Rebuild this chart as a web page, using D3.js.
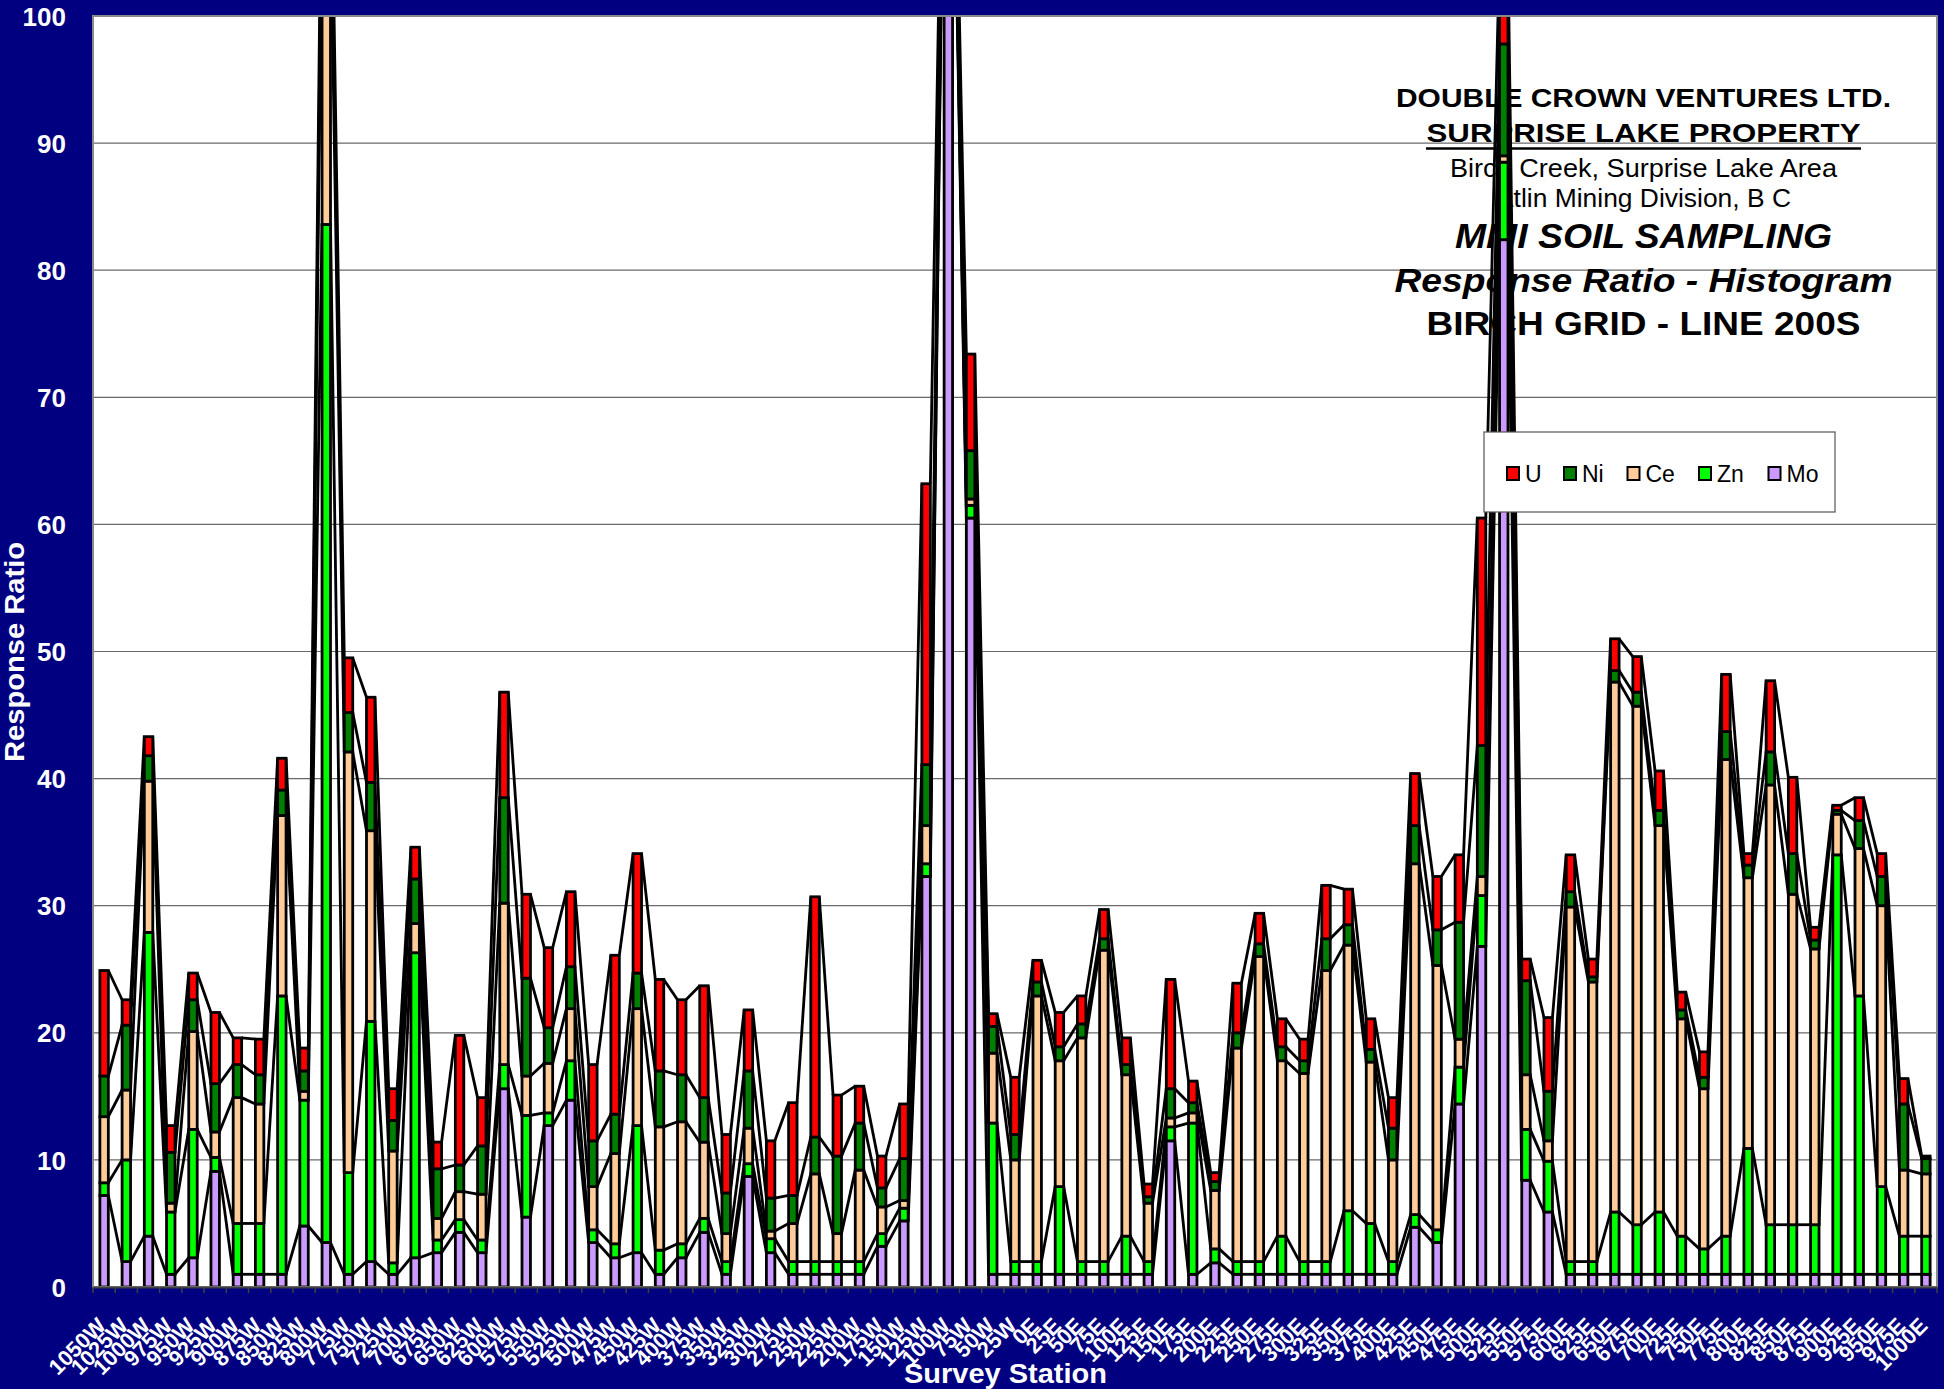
<!DOCTYPE html>
<html>
<head>
<meta charset="utf-8">
<script src="https://cdn.jsdelivr.net/npm/d3@7"></script>
<style>
html,body{margin:0;padding:0;background:#000080;}
svg{display:block;}
text{font-family:Arial,"Liberation Sans",sans-serif;}
</style>
</head>
<body>
<svg id="chart" width="1944" height="1389"></svg>
<script>
const stations = ["1050W","1025W","1000W","975W","950W","925W","900W","875W","850W","825W","800W","775W","750W","725W","700W","675W","650W","625W","600W","575W","550W","525W","500W","475W","450W","425W","400W","375W","350W","325W","300W","275W","250W","225W","200W","175W","150W","125W","100W","75W","50W","25W","0E","25E","50E","75E","100E","125E","150E","175E","200E","225E","250E","275E","300E","325E","350E","375E","400E","425E","450E","475E","500E","525E","550E","575E","600E","625E","650E","675E","700E","725E","750E","775E","800E","825E","850E","875E","900E","925E","950E","975E","1000E"];

const mo = [7.2,2.0,4.0,1.0,2.3,9.1,1.0,1.0,1.0,4.8,3.5,1.0,2.0,1.0,2.3,2.7,4.3,2.7,15.6,5.5,12.7,14.7,3.5,2.3,2.7,1.0,2.3,4.3,1.0,8.7,2.7,1.0,1.0,1.0,1.0,3.2,5.2,32.3,120,60.5,1.0,1.0,1.0,1.0,1.0,1.0,1.0,1.0,11.5,1.0,1.9,1.0,1.0,1.0,1.0,1.0,1.0,1.0,1.0,4.7,3.5,14.4,26.8,82.4,8.4,5.9,1.0,1.0,1.0,1.0,1.0,1.0,1.0,1.0,1.0,1.0,1.0,1.0,1.0,1.0,1.0,1.0,1.0];
const zn = [1.0,8.0,23.9,4.9,10.1,1.1,4.0,4.0,21.9,9.9,80.1,8.0,18.9,0.9,24.0,1.0,1.0,1.0,1.9,8.0,1.0,3.1,1.0,1.1,10.0,1.9,1.1,1.1,1.0,1.0,1.1,1.0,1.0,1.0,1.0,1.0,1.0,1.0,1.0,1.0,11.9,1.0,1.0,6.9,1.0,1.0,3.0,1.0,1.1,11.9,1.1,1.0,1.0,3.0,1.0,1.0,5.0,4.0,1.0,1.0,1.0,2.9,4.0,6.1,4.0,4.0,1.0,1.0,4.9,3.9,4.9,3.0,2.0,3.0,9.9,3.9,3.9,3.9,33.0,21.9,6.9,3.0,3.0];
const ce = [5.2,5.5,11.9,0.7,7.7,2.0,9.9,9.4,14.2,0.7,25.0,33.1,15.0,8.8,2.3,1.7,2.2,3.6,12.7,3.1,3.9,4.1,3.4,7.1,9.2,9.7,9.6,6.0,2.2,2.8,0.6,3.0,6.9,2.2,7.2,2.1,0.6,3.0,1.0,0.5,5.5,8.0,20.9,9.9,17.6,24.5,12.7,4.6,0.7,0.8,4.6,16.8,24.0,13.8,14.8,22.9,20.9,12.7,8.0,27.6,20.8,2.2,1.5,0.5,4.3,1.6,27.9,22.0,41.7,40.8,30.4,17.1,12.6,37.5,21.3,34.6,26.0,21.7,3.2,11.6,22.1,5.2,4.9];
const ni = [3.2,5.1,2.0,4.0,2.5,3.8,2.6,2.3,2.0,1.6,4.0,3.1,3.8,2.4,3.5,3.9,2.1,3.8,8.3,7.7,2.8,3.3,3.6,3.1,2.8,4.4,3.7,3.5,3.2,4.5,2.6,2.2,2.9,6.1,3.7,1.5,3.3,4.8,2.0,3.8,2.1,2.0,1.1,1.1,1.1,0.9,0.8,0.5,2.3,0.8,0.7,1.2,1.0,1.1,1.0,2.5,1.6,1.0,2.5,3.0,2.8,9.2,10.3,8.8,7.4,3.9,1.2,0.4,0.9,1.1,1.2,0.7,0.9,2.2,1.0,2.6,3.2,0.7,0.3,2.2,2.3,5.2,1.2];
const u = [8.3,2.0,1.5,2.1,2.1,5.6,2.1,2.8,2.5,1.8,5.0,4.3,6.7,2.5,2.5,2.1,10.2,3.8,8.3,6.6,6.3,5.9,6.0,12.5,9.4,7.2,5.9,8.8,4.6,4.8,4.5,7.3,18.9,4.8,2.9,2.5,4.3,22.1,2.0,7.6,1.0,4.5,1.7,2.7,2.2,2.3,2.1,1.0,8.6,1.7,0.7,3.9,2.4,2.2,1.7,4.2,2.8,2.4,2.4,4.1,4.2,5.3,17.9,7.2,1.7,5.8,2.9,1.4,2.5,2.8,3.1,1.4,2.0,4.5,0.9,5.6,6.0,1.0,0.4,1.8,1.8,2.0,0.2];

const seriesKeys = ["Mo","Zn","Ce","Ni","U"];
const seriesColors = {Mo:"#CC99FF", Zn:"#00FF00", Ce:"#FFCC99", Ni:"#008000", U:"#FF0000"};
const legendOrder = ["U","Ni","Ce","Zn","Mo"];
const yTicks = [0,10,20,30,40,50,60,70,80,90,100];
const titleLines = [
  "DOUBLE CROWN VENTURES LTD.",
  "SURPRISE LAKE PROPERTY",
  "Birch Creek, Surprise Lake Area",
  "Atlin Mining Division, B C",
  "MMI SOIL SAMPLING",
  "Response Ratio - Histogram",
  "BIRCH GRID - LINE 200S"
];

const table = stations.map((s,i)=>({station:s, Mo:mo[i], Zn:zn[i], Ce:ce[i], Ni:ni[i], U:u[i]}));
const stacked = d3.stack().keys(seriesKeys)(table);

const svg = d3.select("#chart");
const L = 93, R = 1937, T = 16, B = 1287;

const x = d3.scaleBand().domain(stations).range([L, R]).paddingInner(0.62).paddingOuter(0.31);
const y = d3.scaleLinear().domain([0,100]).range([B, T]);
const bw = x.bandwidth();
const SW = 2.8;

// background
svg.append("rect").attr("x",0).attr("y",0).attr("width",1944).attr("height",1389).attr("fill","#000080");
svg.append("rect").attr("x",L).attr("y",T).attr("width",R-L).attr("height",B-T).attr("fill","#ffffff");

// gridlines
svg.append("g").selectAll("line").data(yTicks.filter(d=>d>0 && d<100)).join("line")
  .attr("x1",L).attr("x2",R).attr("y1",d=>y(d)).attr("y2",d=>y(d))
  .attr("stroke","#6a6a6a").attr("stroke-width",1.2);

// title block inside plot (drawn under bars)
const tcx = 1643.5;
const tStyles = [
  {y:106.7, size:26, weight:"bold", style:"normal", len:495},
  {y:141.7, size:26, weight:"bold", style:"normal", len:434},
  {y:177, size:26, weight:"normal", style:"normal", len:387},
  {y:207, size:26, weight:"normal", style:"normal", len:295},
  {y:248, size:35, weight:"bold", style:"italic", len:377},
  {y:292, size:33, weight:"bold", style:"italic", len:498},
  {y:335, size:33, weight:"bold", style:"normal", len:434}
];
const tg = svg.append("g");
titleLines.forEach((t,i)=>{
  const s = tStyles[i];
  tg.append("text").attr("x",tcx).attr("y",s.y).attr("text-anchor","middle")
    .attr("font-size",s.size).attr("font-weight",s.weight).attr("font-style",s.style)
    .attr("textLength",s.len).attr("lengthAdjust","spacingAndGlyphs")
    .attr("fill","#000").text(t);
});
tg.append("line").attr("x1",tcx-217.5).attr("x2",tcx+217.5).attr("y1",148.5).attr("y2",148.5)
  .attr("stroke","#000").attr("stroke-width",2.6);

// clip
svg.append("defs").append("clipPath").attr("id","plotclip")
  .append("rect").attr("x",L).attr("y",T).attr("width",R-L).attr("height",B-T);
const pg = svg.append("g").attr("clip-path","url(#plotclip)");

// series lines
stacked.forEach(layer=>{
  const segs = [];
  for(let i=0;i<layer.length-1;i++){
    segs.push({x1:x(stations[i])+bw, y1:y(layer[i][1]), x2:x(stations[i+1]), y2:y(layer[i+1][1])});
  }
  pg.append("g").selectAll("line").data(segs).join("line")
    .attr("x1",d=>d.x1).attr("y1",d=>d.y1).attr("x2",d=>d.x2).attr("y2",d=>d.y2)
    .attr("stroke","#000").attr("stroke-width",SW);
});

// bars
stacked.forEach(layer=>{
  pg.append("g").selectAll("rect").data(layer).join("rect")
    .attr("x",d=>x(d.data.station))
    .attr("width",bw)
    .attr("y",d=>y(d[1]))
    .attr("height",d=>Math.max(0,y(d[0])-y(d[1])))
    .attr("fill",seriesColors[layer.key])
    .attr("stroke","#000").attr("stroke-width",SW);
});

// plot border
svg.append("rect").attr("x",L).attr("y",T).attr("width",R-L).attr("height",B-T)
  .attr("fill","none").attr("stroke","#8a8a8a").attr("stroke-width",2);

// x axis
const xAxis = d3.axisBottom(x).tickSize(0).tickFormat("");
const xg = svg.append("g").attr("transform",`translate(0,${B})`).call(xAxis);
xg.select(".domain").attr("stroke","#404040").attr("stroke-width",2);
// category boundary ticks
svg.append("g").selectAll("line").data(d3.range(stations.length+1)).join("line")
  .attr("x1",i=>L + i*(R-L)/stations.length).attr("x2",i=>L + i*(R-L)/stations.length)
  .attr("y1",B).attr("y2",B+6).attr("stroke","#404040").attr("stroke-width",1.5);

// x tick labels
svg.append("g").selectAll("text").data(stations).join("text")
  .attr("transform",d=>`translate(${x(d)+bw/2+3},${B+40}) rotate(-45)`)
  .attr("text-anchor","end")
  .attr("font-size",22).attr("font-weight","bold").attr("fill","#fff")
  .text(d=>d);

// y axis
const yAxis = d3.axisLeft(y).tickValues(yTicks).tickSize(0).tickPadding(0);
const yg = svg.append("g").attr("transform",`translate(${L},0)`).call(yAxis);
yg.select(".domain").remove();
yg.selectAll("text").attr("x",-27).attr("dy","0.35em").attr("fill","#fff")
  .attr("font-size",26).attr("font-weight","bold")
  .attr("font-family",'Arial,"Liberation Sans",sans-serif');

// axis titles
svg.append("text").attr("transform","translate(24,652) rotate(-90)")
  .attr("text-anchor","middle").attr("font-size",27).attr("font-weight","bold").attr("fill","#fff")
  .attr("textLength",220).attr("lengthAdjust","spacingAndGlyphs").text("Response Ratio");
svg.append("text").attr("x",1005.5).attr("y",1383)
  .attr("text-anchor","middle").attr("font-size",27).attr("font-weight","bold").attr("fill","#fff")
  .attr("textLength",203).attr("lengthAdjust","spacingAndGlyphs").text("Survey Station");

// legend
const lg = svg.append("g");
lg.append("rect").attr("x",1484).attr("y",432).attr("width",351).attr("height",80)
  .attr("fill","#fff").attr("stroke","#555").attr("stroke-width",1.2);
const legX = {U:1507, Ni:1564, Ce:1627.5, Zn:1699, Mo:1768.5};
legendOrder.forEach(k=>{
  lg.append("rect").attr("x",legX[k]).attr("y",467).attr("width",12).attr("height",13)
    .attr("fill",seriesColors[k]).attr("stroke","#000").attr("stroke-width",2);
  lg.append("text").attr("x",legX[k]+18).attr("y",482).attr("font-size",23).attr("fill","#000").text(k);
});
</script>
</body>
</html>
